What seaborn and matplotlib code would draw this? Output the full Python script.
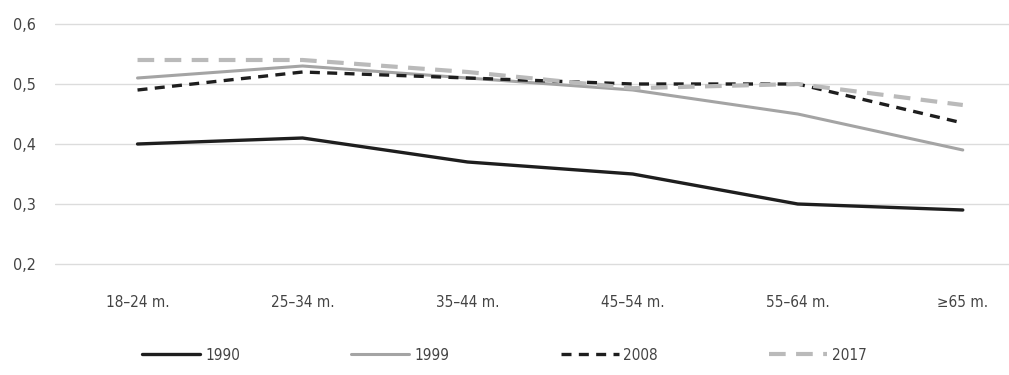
import matplotlib
matplotlib.use('Agg')
import matplotlib.pyplot as plt
from matplotlib import font_manager
import pandas as pd
import seaborn as sns

# Data
age_groups = ['18–24 m.', '25–34 m.', '35–44 m.', '45–54 m.', '55–64 m.', '≥65 m.']
y1990 = [0.40, 0.41, 0.37, 0.35, 0.30, 0.29]
y1999 = [0.51, 0.53, 0.51, 0.49, 0.45, 0.39]
y2008 = [0.49, 0.52, 0.51, 0.50, 0.50, 0.435]
y2017 = [0.54, 0.54, 0.52, 0.493, 0.50, 0.465]
ytick_vals = [0.2, 0.3, 0.4, 0.5, 0.6]
ytick_labels = ['0,2', '0,3', '0,4', '0,5', '0,6']

sns.set_style('white')
names = {f.name for f in font_manager.fontManager.ttflist}
if 'Liberation Sans Narrow' in names:
    plt.rcParams['font.family'] = ['Liberation Sans Narrow', 'DejaVu Sans']
else:
    plt.rcParams['font.family'] = ['DejaVu Sans']
    plt.rcParams['font.stretch'] = 'condensed'

df = pd.DataFrame({'age': age_groups, '1990': y1990, '1999': y1999,
                   '2008': y2008, '2017': y2017})
df['pos'] = range(len(age_groups))

styles = {
    '1990': dict(color='#1e1e1e', linestyle='-', linewidth=2.4),
    '1999': dict(color='#a4a4a4', linestyle='-', linewidth=2.2),
    '2008': dict(color='#1e1e1e', linestyle=(0, (3, 2.2)), linewidth=2.4),
    '2017': dict(color='#bababa', linestyle=(0, (4, 2.5)), linewidth=3.0),
}

fig = plt.figure(figsize=(10.09, 3.75), dpi=100)
ax = fig.add_axes([55 / 1009, 1 - 267 / 375, 1 - 55 / 1009, 246 / 375])

for year in ['1990', '1999', '2008', '2017']:
    sns.lineplot(data=df, x='pos', y=year, ax=ax, label=year, **styles[year])

ax.set_xlim(-0.5, 5.28)
ax.set_ylim(0.195, 0.605)
ax.set_yticks(ytick_vals)
ax.set_yticklabels(ytick_labels)
ax.set_xticks(df['pos'])
ax.set_xticklabels(age_groups)
ax.yaxis.grid(True, color='#dcdcdc', linewidth=1.0)
ax.xaxis.grid(False)
ax.set_axisbelow(True)
for s in ax.spines.values():
    s.set_visible(False)
ax.tick_params(axis='x', length=0, pad=20, labelsize=11, labelcolor='#444444')
ax.tick_params(axis='y', length=0, pad=14, labelsize=11.5, labelcolor='#444444')
ax.set_xlabel('')
ax.set_ylabel('')

handles, labels = ax.get_legend_handles_labels()
ax.get_legend().remove()
fig.legend(handles, labels, loc='center', bbox_to_anchor=(0.5, 1 - 355 / 375),
           ncol=4, frameon=False, handlelength=3.8, handletextpad=0.3,
           columnspacing=7.3, fontsize=11, labelcolor='#444444')

fig.savefig('out.png', dpi=100)
